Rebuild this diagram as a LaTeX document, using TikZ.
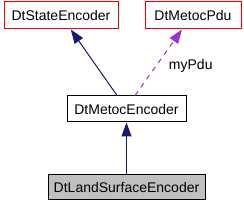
\documentclass[tikz,border=0pt]{standalone}
\usepackage{fontspec}
\setmainfont{Liberation Sans}
\usepackage{xcolor}
\usetikzlibrary{arrows.meta,positioning}

\definecolor{edgeblue}{HTML}{191970}
\definecolor{edgepurple}{HTML}{9A32CD}
\definecolor{nodegray}{HTML}{BFBFBF}

\begin{document}
\begin{tikzpicture}[
  font=\fontsize{14}{16}\selectfont,
  box/.style={draw,line width=1pt,fill=white,align=center,inner sep=0pt,minimum height=26pt},
  extbox/.style={box,draw=red},
  curbox/.style={box,fill=nodegray},
  inherit/.style={edgeblue,line width=1pt,-{Triangle[length=14pt,width=10pt]}},
  usage/.style={edgepurple,line width=1pt,dash pattern=on 5pt off 5pt,-{Triangle[length=14pt,width=10pt]}},
]
\useasboundingbox (0,0) rectangle (244pt,-205pt);
\node[box,minimum width=119pt] (metoc) at (126.5pt,-109pt) {DtMetocEncoder};
\node[curbox,minimum width=157pt,minimum height=25pt,below=52pt of metoc] (land) {DtLandSurfaceEncoder};
\node[extbox,minimum width=114pt,minimum height=27pt,above left=66pt and -52pt of metoc] (state) {DtStateEncoder};
\node[extbox,minimum width=96pt,minimum height=27pt,above right=66pt and -42pt of metoc] (pdu) {DtMetocPdu};
\draw[inherit] (land) -- (metoc);
\draw[inherit] (metoc) -- (state);
\draw[usage] ([xshift=8.5pt]metoc.north) -- node[pos=0.45,anchor=west,xshift=9pt,text=black] {myPdu} ([xshift=-11pt]pdu.south);
\end{tikzpicture}
\end{document}
